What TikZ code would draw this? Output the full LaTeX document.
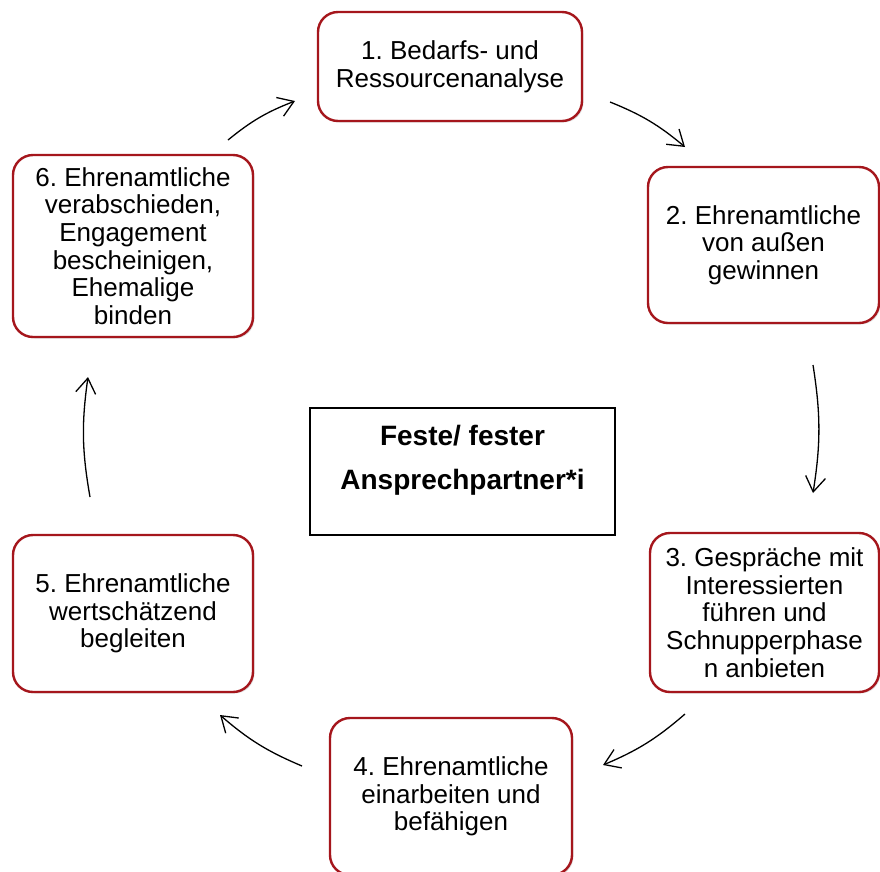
\documentclass[tikz,border=0pt]{standalone}
\usepackage{fontspec}
\setmainfont{Liberation Sans}
\usetikzlibrary{arrows.meta,shadows}
\definecolor{stepred}{RGB}{165,22,28}
\frenchspacing

\begin{document}
\begin{tikzpicture}[x=1pt, y=1pt, line width=1.3pt,
  stepbox/.style={draw=stepred, line width=2.4pt, rounded corners=20pt, fill=white, align=center, inner sep=0pt,
    font=\fontsize{26}{27.6}\selectfont, drop shadow={shadow xshift=1.5pt, shadow yshift=-1.5pt, opacity=0.25}},
  cycarrow/.style={-{Straight Barb[length=15pt,width=20pt]}, line width=1.3pt}]
\useasboundingbox (0,0) rectangle (880,-871);
\clip (0,0) rectangle (880,-871);
\node[stepbox, minimum width=264pt, minimum height=109pt] (s1) at (450,-66.5) {1. Bedarfs- und\\Ressourcenanalyse};
\node[stepbox, minimum width=231pt, minimum height=156pt] (s2) at (763.5,-245) {2. Ehrenamtliche\\von außen\\gewinnen};
\node[stepbox, minimum width=229pt, minimum height=159pt] (s3) at (764.5,-612.5) {3. Gespräche mit\\Interessierten\\führen und\\Schnupperphase\\n anbieten};
\node[stepbox, minimum width=242pt, minimum height=157pt] (s4) at (451,-796.5) {4. Ehrenamtliche\\einarbeiten und\\befähigen};
\node[stepbox, minimum width=240pt, minimum height=157pt] (s5) at (133,-613.5) {5. Ehrenamtliche\\wertschätzend\\begleiten};
\node[stepbox, minimum width=240pt, minimum height=182pt] (s6) at (133,-246) {6. Ehrenamtliche\\verabschieden,\\Engagement\\bescheinigen,\\Ehemalige\\binden};
\node[draw, line width=1.5pt, minimum width=305pt, minimum height=127pt] (ctr) at (462.5,-471.5) {};
\node[align=center, font=\fontsize{28}{44}\selectfont\bfseries] (ctrtext) at (462.5,-460) {Feste/ fester\\Ansprechpartner*i};
\coordinate (a12s) at (610,-102); \coordinate (a12e) at (685,-147);
\coordinate (a23s) at (813,-365); \coordinate (a23e) at (813,-493);
\coordinate (a34s) at (685,-714); \coordinate (a34e) at (603,-765);
\coordinate (a45s) at (302,-766); \coordinate (a45e) at (220,-715);
\coordinate (a56s) at (90,-497);  \coordinate (a56e) at (88,-377);
\coordinate (a61s) at (228,-140); \coordinate (a61e) at (295,-101);
\foreach \p in {12,23,34,45,56,61}{
  \draw[cycarrow] (a\p s) to[bend left=9] (a\p e);
}
\end{tikzpicture}
\end{document}
